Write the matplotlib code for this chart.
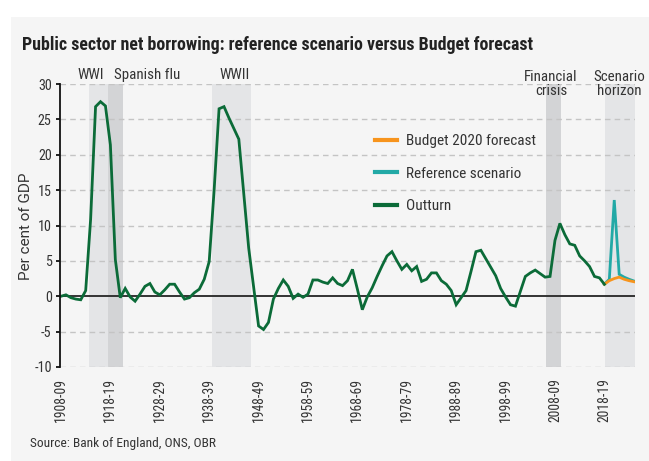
import os
import matplotlib
matplotlib.use("Agg")
import matplotlib.pyplot as plt
import matplotlib.font_manager as fm
from matplotlib.font_manager import FontProperties
from matplotlib.lines import Line2D
from matplotlib.patches import Rectangle
import matplotlib.transforms as mtransforms

# ---------------- data ----------------
outturn_years = list(range(1908, 2019))   # fiscal years 1908-09 ... 2018-19 (start year)
outturn = [0.0, 0.2, -0.2, -0.4, -0.5, 0.8, 10.9, 26.8, 27.5, 26.9,
           21.4, 5.2, -0.2, 1.1, -0.1, -0.7, 0.3, 1.4, 1.8, 0.6,
           0.2, 0.9, 1.7, 1.7, 0.6, -0.4, -0.2, 0.5, 1.0, 2.4,
           4.9, 15.0, 26.5, 26.8, 25.2, 23.7, 22.2, 14.5, 6.8, 1.3,
           -4.2, -4.7, -3.7, -0.4, 1.1, 2.3, 1.4, -0.3, 0.3, -0.15,
           0.3, 2.3, 2.3, 2.0, 1.8, 2.6, 1.8, 1.5, 2.2, 3.8,
           1.0, -1.9, -0.1, 1.2, 2.8, 4.3, 5.7, 6.3, 5.0, 3.8,
           4.5, 3.6, 4.2, 2.1, 2.4, 3.3, 3.3, 2.2, 1.7, 0.8,
           -1.2, -0.2, 0.8, 3.5, 6.3, 6.5, 5.3, 4.1, 2.9, 1.1,
           -0.1, -1.2, -1.4, 0.7, 2.8, 3.3, 3.7, 3.2, 2.7, 2.8,
           7.9, 10.3, 8.7, 7.4, 7.2, 5.7, 5.0, 4.2, 2.8, 2.6,
           1.7]
forecast_years = [2018, 2019, 2020, 2021, 2022, 2023, 2024]
budget_2020 = [1.7, 2.2, 2.5, 2.7, 2.4, 2.2, 2.05]
reference = [1.7, 2.4, 13.6, 3.1, 2.7, 2.4, 2.15]

tick_years = [1908, 1918, 1928, 1938, 1948, 1958, 1968, 1978, 1988, 1998, 2008, 2018]
tick_labels = ["1908-09", "1918-19", "1928-29", "1938-39", "1948-49", "1958-59",
               "1968-69", "1978-79", "1988-89", "1998-99", "2008-09", "2018-19"]
y_ticks = [-10, -5, 0, 5, 10, 15, 20, 25, 30]
y_tick_labels = ["-10", "-5", "0", "5", "10", "15", "20", "25", "30"]

# shaded periods (label, start, end)
events = [
    ("WWI", 1913.67, 1917.5),
    ("Spanish flu", 1917.5, 1920.55),
    ("WWII", 1938.6, 1946.4),
    ("Financial crisis", 2006.2, 2009.2),
    ("Scenario horizon", 2018.1, 2024.3),
]

# ---------------- fonts ----------------
files = [f.fname for f in fm.fontManager.ttflist]


def find(sub):
    for fn in files:
        if sub in os.path.basename(fn).lower():
            return fn
    return None


pairs = [("robotocondensed-regular", "robotocondensed-bold."),
         ("dejavusanscondensed.ttf", "dejavusanscondensed-bold.ttf"),
         ("liberationsansnarrow-regular", "liberationsansnarrow-bold."),
         ("notosans-condensed.", "notosans-condensedbold.")]
REG = BOLD = None
for r, b in pairs:
    fr, fb = find(r), find(b)
    if fr and fb:
        REG, BOLD = fr, fb
        break
if REG is None:
    REG = fm.findfont(FontProperties(family="Roboto"))
    BOLD = fm.findfont(FontProperties(family="Roboto", weight="bold"))
WIDE = fm.findfont(FontProperties(family="Roboto"))


def fp(size, bold=False, wide=False):
    if wide:
        return FontProperties(fname=WIDE, size=size)
    return FontProperties(fname=BOLD if bold else REG, size=size)


TXT = "#333333"
BG = "#f5f5f5"
LIGHT = "#e4e5e7"
DARK = "#d3d4d6"
GREEN = "#0b6b38"
TEAL = "#22a9a6"
ORANGE = "#f7941d"

W, H = 649, 461
fig = plt.figure(figsize=(W / 100, H / 100), dpi=100, facecolor="white")
fig.patches.append(Rectangle((11 / W, 0), 1 - 11 / W, 1 - 17 / H,
                             transform=fig.transFigure, facecolor=BG,
                             edgecolor="none", zorder=-10))

ax_l, ax_r, ax_t, ax_b = 60, 635, 84, 367
ax = fig.add_axes([ax_l / W, 1 - ax_b / H, (ax_r - ax_l) / W, (ax_b - ax_t) / H])
ax.set_facecolor(BG)

ax.set_xlim(1907.8, 2024.2)
ax.set_ylim(-10, 30)

# shading
shade_colors = [LIGHT, DARK, LIGHT, DARK, LIGHT]
for (name, x0, x1), c in zip(events, shade_colors):
    ax.axvspan(x0, x1, color=c, lw=0, zorder=0)

# grid
for yv in y_ticks:
    if yv != 0:
        ax.axhline(yv, color="#c4c4c4", lw=1.0, ls=(0, (4, 3)), zorder=1)
ax.axhline(0, color="#333333", lw=1.4, zorder=2)

# lines
ax.plot(forecast_years, reference, color=TEAL, lw=2.0, zorder=3, solid_joinstyle="miter")
ax.plot(forecast_years, budget_2020, color=ORANGE, lw=2.0, zorder=4, solid_joinstyle="miter")
ax.plot(outturn_years, outturn, color=GREEN, lw=2.0, zorder=5, solid_joinstyle="miter")

# axes styling
for s in ["top", "right", "bottom"]:
    ax.spines[s].set_visible(False)
ax.spines["left"].set_color("#111111")
ax.spines["left"].set_linewidth(1.3)
ax.spines["left"].set_zorder(6)

ax.set_yticks(y_ticks)
ax.set_yticklabels(y_tick_labels, fontproperties=fp(10.2), color=TXT)
ax.tick_params(axis="y", direction="out", length=3, width=1.3, color="#111111", pad=3)
ax.set_xticks(tick_years)
ax.set_xticklabels(tick_labels, rotation=90, fontproperties=fp(9.8), color=TXT)
ax.tick_params(axis="x", length=0, pad=8)

# event labels
trans = mtransforms.blended_transform_factory(ax.transData, ax.transAxes)


def yfrac(py):
    return (ax_b - py) / (ax_b - ax_t)


LAB = 10.8
ax.text(1914.0, yfrac(78.5), "WWI", transform=trans, ha="center", va="baseline",
        fontproperties=fp(LAB), color=TXT)
ax.text(1918.7, yfrac(78.5), "Spanish flu", transform=trans, ha="left", va="baseline",
        fontproperties=fp(LAB), color=TXT)
ax.text(1943.1, yfrac(78.5), "WWII", transform=trans, ha="center", va="baseline",
        fontproperties=fp(LAB), color=TXT)
ax.text(2007.2, yfrac(80.7), "Financial", transform=trans, ha="center", va="baseline",
        fontproperties=fp(LAB), color=TXT)
ax.text(2007.2, yfrac(95.3), "crisis", transform=trans, ha="center", va="baseline",
        fontproperties=fp(LAB), color=TXT)
ax.text(2021.1, yfrac(80.7), "Scenario", transform=trans, ha="center", va="baseline",
        fontproperties=fp(LAB), color=TXT)
ax.text(2021.1, yfrac(95.3), "horizon", transform=trans, ha="center", va="baseline",
        fontproperties=fp(LAB), color=TXT)

# legend
handles = [Line2D([], [], color=ORANGE, lw=3.0),
           Line2D([], [], color=TEAL, lw=3.0),
           Line2D([], [], color=GREEN, lw=3.0)]
labels = ["Budget 2020 forecast", "Reference scenario", "Outturn"]
leg = ax.legend(handles, labels, loc="upper left",
                bbox_to_anchor=((375 - ax_l) / (ax_r - ax_l), yfrac(134)),
                frameon=False, prop=fp(11), borderpad=0, borderaxespad=0,
                handlelength=1.45, handletextpad=0.6, labelspacing=1.22)
for t in leg.get_texts():
    t.set_color(TXT)

# titles
fig.text(22 / W, 1 - 50 / H,
         "Public sector net borrowing: reference scenario versus Budget forecast",
         fontproperties=fp(12.9, bold=True), color="#222222", ha="left", va="baseline")
fig.text(26 / W, 1 - 226 / H, "Per cent of GDP", rotation=90, ha="center", va="center",
         fontproperties=fp(11, wide=True), color=TXT)
fig.text(30 / W, 1 - 447 / H, "Source: Bank of England, ONS, OBR",
         fontproperties=fp(9.6), color=TXT, ha="left", va="baseline")

fig.savefig("out.png", dpi=100, facecolor="white")
